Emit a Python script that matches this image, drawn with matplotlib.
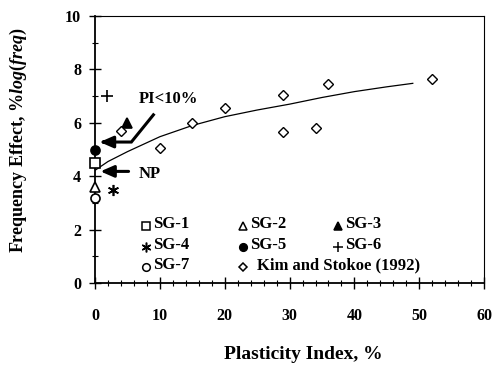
import numpy as np
import matplotlib.pyplot as plt
from matplotlib.ticker import MultipleLocator

plt.rcParams['font.family'] = ['Liberation Serif', 'DejaVu Serif']
plt.rcParams['font.weight'] = 'bold'
plt.rcParams['mathtext.fontset'] = 'custom'
plt.rcParams['mathtext.it'] = 'Liberation Serif:italic:bold'
plt.rcParams['mathtext.rm'] = 'Liberation Serif:bold'

# soil samples (PI, frequency effect)
sg_names = ["SG-1", "SG-2", "SG-3", "SG-4", "SG-5", "SG-6", "SG-7"]
sg_pi = [0.0, 0.0, 5.0, 2.8, 0.0, 1.8, 0.0]
sg_fe = [4.5, 3.6, 6.0, 3.5, 5.0, 7.0, 3.2]

# Kim and Stokoe (1992)
ks_pi = [4, 10, 15, 20, 29, 29, 34, 36, 52]
ks_fe = [5.7, 5.05, 6.0, 6.55, 7.05, 5.65, 5.8, 7.45, 7.65]

# trend line
fit_pi = [0, 2, 5, 10, 15, 20, 25, 30, 35, 40, 45, 49]
fit_fe = [4.22, 4.55, 4.92, 5.48, 5.9, 6.23, 6.48, 6.7, 6.95, 7.17, 7.35, 7.48]

fig = plt.figure(figsize=(4.95, 3.66), dpi=100)
ax = fig.add_axes([0.192, 0.227, 0.786, 0.729])

styles = {
    "SG-1": dict(marker='s', mfc='white', mec='black'),
    "SG-2": dict(marker='^', mfc='white', mec='black'),
    "SG-3": dict(marker='^', mfc='black', mec='black'),
    "SG-4": dict(marker=(6, 2, 0), mfc='black', mec='black'),
    "SG-5": dict(marker='o', mfc='black', mec='black'),
    "SG-6": dict(marker='+', mfc='black', mec='black'),
    "SG-7": dict(marker='o', mfc='white', mec='black'),
    "Kim and Stokoe (1992)": dict(marker='D', mfc='white', mec='black'),
}
for n, x, y in zip(sg_names, sg_pi, sg_fe):
    ms = 8 if n in ("SG-4", "SG-6") else 6.5
    ax.plot([x], [y], ls='none', ms=ms, mew=1.2, clip_on=False, zorder=4, **styles[n])
ax.plot(ks_pi, ks_fe, ls='none', ms=5, mew=1.0, zorder=4,
        **styles["Kim and Stokoe (1992)"])
ax.plot(fit_pi, fit_fe, color='black', lw=0.9, zorder=3)

# annotations
ax.plot([9.0, 5.6, 1.5], [6.3, 5.28, 5.28], color='black', lw=2.2, solid_joinstyle='miter')
ax.annotate("", xy=(0.3, 5.28), xytext=(2.2, 5.28),
            arrowprops=dict(arrowstyle='-|>,head_length=0.8,head_width=0.35',
                            color='black', lw=2.2))
ax.text(6.8, 6.75, "PI<10%", fontsize=12, fontweight='bold')
ax.annotate("", xy=(0.4, 4.18), xytext=(5.6, 4.18),
            arrowprops=dict(arrowstyle='-|>,head_length=0.8,head_width=0.35',
                            color='black', lw=2.2))
ax.text(6.8, 3.95, "NP", fontsize=12, fontweight='bold')

# legend laid out as in the original (3 columns inside the axes)
leg_items = [("SG-1", 7.8, 2.2), ("SG-4", 7.8, 1.43), ("SG-7", 7.8, 0.67),
             ("SG-2", 22.8, 2.2), ("SG-5", 22.8, 1.43),
             ("Kim and Stokoe (1992)", 22.8, 0.67),
             ("SG-3", 37.5, 2.2), ("SG-6", 37.5, 1.43)]
for n, x, y in leg_items:
    ms = 4.5 if n.startswith("Kim") else 5.5
    if n in ("SG-4", "SG-6"):
        ms = 7
    ax.plot([x], [y - 0.08], ls='none', ms=ms, mew=1.1, **styles[n])
    dx = 2.2 if n.startswith("Kim") else 1.1
    ax.text(x + dx, y, n, fontsize=12, fontweight='bold', va='center')

ax.set_xlim(0, 60)
ax.set_ylim(0, 10)
ax.xaxis.set_major_locator(MultipleLocator(10))
ax.xaxis.set_minor_locator(MultipleLocator(2))
ax.yaxis.set_major_locator(MultipleLocator(2))
ax.yaxis.set_minor_locator(MultipleLocator(1))
ax.tick_params(which='major', direction='inout', length=8, width=1, labelsize=11.5,
               top=False, right=False)
ax.tick_params(which='minor', direction='inout', length=4, width=0.8,
               top=False, right=False)
ax.tick_params(axis='x', pad=14)
ax.tick_params(axis='y', pad=6)
for s in ['left', 'bottom']:
    ax.spines[s].set_linewidth(1.3)
for s in ['top', 'right']:
    ax.spines[s].set_linewidth(0.8)

ax.set_xlabel("Plasticity Index, %", fontsize=14, fontweight='bold')
ax.xaxis.set_label_coords(0.535, -0.235)
ax.set_ylabel(r"Frequency Effect, %$\it{log(freq)}$", fontsize=13,
              fontweight='bold')
ax.yaxis.set_label_coords(-0.17, 0.535)

fig.savefig("out.png", dpi=100)
